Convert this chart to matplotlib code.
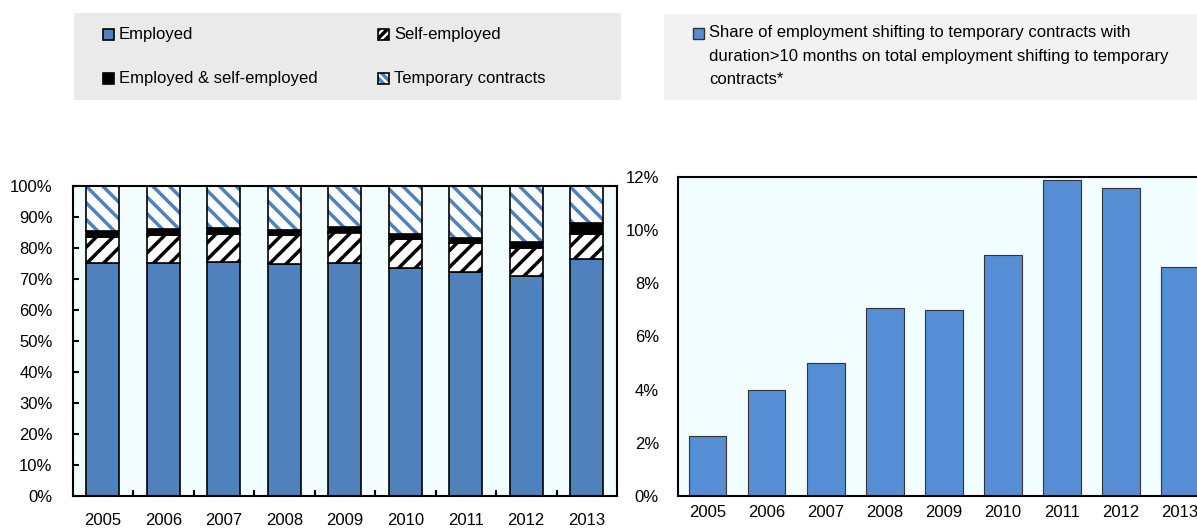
import matplotlib
matplotlib.use('Agg')
import matplotlib.pyplot as plt
from matplotlib.patches import Rectangle
from matplotlib.ticker import PercentFormatter, FixedLocator

plt.rcParams['font.family'] = ['Liberation Sans', 'DejaVu Sans']
plt.rcParams['font.size'] = 12
plt.rcParams['hatch.linewidth'] = 2.5

# data (%)
years = ['2005', '2006', '2007', '2008', '2009', '2010', '2011', '2012', '2013']
employed = [75.1, 75.2, 75.4, 74.8, 75.1, 73.6, 72.3, 71.0, 76.3]
self_employed = [8.5, 8.9, 9.2, 9.3, 9.9, 9.3, 9.2, 9.1, 8.1]
both = [1.8, 1.9, 1.7, 1.7, 1.7, 1.6, 1.7, 1.8, 3.6]
temporary = [100 - e - s - b for e, s, b in zip(employed, self_employed, both)]

share_long = [2.26, 4.0, 5.0, 7.07, 7.0, 9.08, 11.9, 11.6, 8.6]

blue = '#4F81BD'
blue2 = '#558ED5'
bg = '#F2FDFF'

W, H = 1197, 532
fig = plt.figure(figsize=(W / 100, H / 100), dpi=100)


def fx(px):
    return px / W


def fy(py):
    return 1 - py / H


# legend boxes
fig.patches.append(Rectangle((fx(74), fy(100)), fx(621 - 74), 87 / H,
                             transform=fig.transFigure, facecolor='#EAEAEA', edgecolor='none'))
fig.patches.append(Rectangle((fx(664), fy(100)), fx(1197 - 664), 86 / H,
                             transform=fig.transFigure, facecolor='#F2F2F2', edgecolor='none'))


def legend_item(x, y, label, face, hatch=None, hcol='black'):
    fig.patches.append(Rectangle((fx(x), fy(y + 5.5)), fx(11), 11 / H, transform=fig.transFigure,
                                 facecolor=face, edgecolor=hcol if hatch else 'black',
                                 hatch=hatch, linewidth=0))
    fig.patches.append(Rectangle((fx(x), fy(y + 5.5)), fx(11), 11 / H, transform=fig.transFigure,
                                 facecolor='none', edgecolor='black', linewidth=1.2))
    fig.text(fx(x + 16), fy(y), label, ha='left', va='center', fontsize=12)


legend_item(103, 34, 'Employed', blue)
legend_item(103, 78, 'Employed & self-employed', 'black')
legend_item(378, 34, 'Self-employed', 'white', '////', 'black')
legend_item(378, 78, 'Temporary contracts', 'white', '\\\\\\\\', blue)

fig.patches.append(Rectangle((fx(693), fy(39)), fx(11), 11 / H, transform=fig.transFigure,
                             facecolor=blue2, edgecolor='#333333', linewidth=1))
fig.text(fx(709), fy(25), 'Share of employment shifting to temporary contracts with\n'
         'duration>10 months on total employment shifting to temporary\ncontracts*',
         ha='left', va='top', fontsize=12, linespacing=1.72)

# left chart
ax1 = fig.add_axes([fx(72.5), 36 / H, fx(617 - 72.5), 310 / H])
ax1.set_facecolor(bg)
x = range(len(years))
bw = 0.55
ax1.bar(x, employed, bw, color=blue, edgecolor='black', linewidth=1.2, zorder=2)
bottom2 = list(employed)
ax1.bar(x, self_employed, bw, bottom=bottom2, color='white', edgecolor='black',
        hatch='//', linewidth=0, zorder=2)
ax1.bar(x, self_employed, bw, bottom=bottom2, fill=False, edgecolor='black', linewidth=1.2, zorder=3)
bottom3 = [e + s for e, s in zip(employed, self_employed)]
ax1.bar(x, both, bw, bottom=bottom3, color='black', edgecolor='black', linewidth=1.2, zorder=2)
bottom4 = [e + s + b for e, s, b in zip(employed, self_employed, both)]
ax1.bar(x, temporary, bw, bottom=bottom4, color='white', edgecolor=blue,
        hatch='\\\\', linewidth=0, zorder=2)
ax1.bar(x, temporary, bw, bottom=bottom4, fill=False, edgecolor='black', linewidth=1.2, zorder=3)

ax1.set_xlim(-0.5, len(years) - 0.5)
ax1.set_ylim(0, 100)
ax1.yaxis.set_major_locator(FixedLocator(range(0, 101, 10)))
ax1.yaxis.set_major_formatter(PercentFormatter(decimals=0))
ax1.set_xticks(list(x))
ax1.set_xticklabels(years)
ax1.set_xticks([i + 0.5 for i in range(len(years) - 1)], minor=True)
ax1.tick_params(axis='x', which='major', length=0, pad=12, labelsize=12)
ax1.tick_params(axis='x', which='minor', direction='in', length=4.3, width=1.5)
ax1.tick_params(axis='y', direction='in', length=4.3, width=1.5, pad=14.4, labelsize=12)
for s in ax1.spines.values():
    s.set_linewidth(1.5)

# right chart
ax2 = fig.add_axes([fx(678), 36 / H, fx(1209.5 - 678), 319 / H])
ax2.set_facecolor(bg)
ax2.bar(x, share_long, 0.64, color=blue2, edgecolor='#333333', linewidth=0.8, zorder=2)
ax2.set_xlim(-0.5, len(years) - 0.5)
ax2.set_ylim(0, 12)
ax2.yaxis.set_major_locator(FixedLocator(range(0, 13, 2)))
ax2.yaxis.set_major_formatter(PercentFormatter(decimals=0))
ax2.set_xticks(list(x))
ax2.set_xticklabels(years)
ax2.tick_params(axis='x', length=0, pad=6.5, labelsize=12)
ax2.tick_params(axis='y', length=0, pad=13.7, labelsize=12)
for s in ax2.spines.values():
    s.set_linewidth(1.5)

fig.savefig('out.png', dpi=100)
